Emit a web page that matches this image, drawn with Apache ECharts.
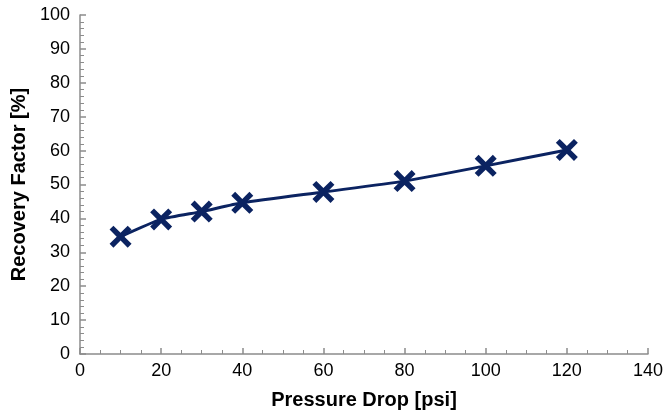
<!DOCTYPE html>
<html>
<head>
<meta charset="utf-8">
<script src="https://cdn.jsdelivr.net/npm/echarts@6/dist/echarts.min.js"></script>
<style>
  html, body { margin: 0; padding: 0; background: #fff; }
  #chart { width: 666px; height: 418px; }
</style>
</head>
<body>
<div id="chart"></div>
<script>
var pressureDrop = [10, 20, 30, 40, 60, 80, 100, 120];
var recovery = [34.6, 39.7, 42.0, 44.6, 47.8, 51.0, 55.5, 60.2];

var navy = '#0b2361';
var axisGray = '#8c8c8c';
// X shaped marker, thick arms
var crossPath = 'path://M3.5,0 L10,6.5 L16.5,0 L20,3.5 L13.5,10 L20,16.5 L16.5,20 L10,13.5 L3.5,20 L0,16.5 L6.5,10 L0,3.5 Z';

var points = pressureDrop.map(function (x, i) { return [x, recovery[i]]; });

var myChart = echarts.init(document.getElementById('chart'));
myChart.setOption({
    animation: false,
    grid: { left: 80, right: 18, top: 15, bottom: 64 },
    xAxis: {
        type: 'value',
        min: 0, max: 140, interval: 20,
        name: 'Pressure Drop [psi]',
        nameLocation: 'middle',
        nameGap: 36,
        nameTextStyle: { fontFamily: 'Liberation Sans', fontSize: 20, fontWeight: 'bold', color: '#000' },
        axisLine: { lineStyle: { color: axisGray, width: 1.5 } },
        axisTick: { inside: true, length: 6, lineStyle: { color: axisGray, width: 1.5 } },
        minorTick: { show: true, splitNumber: 4, length: 4, lineStyle: { color: axisGray, width: 1 } },
        axisLabel: { fontFamily: 'Liberation Sans', fontSize: 18, color: '#000', margin: 8 },
        splitLine: { show: false }
    },
    yAxis: {
        type: 'value',
        min: 0, max: 100, interval: 10,
        name: 'Recovery Factor [%]',
        nameLocation: 'middle',
        nameGap: 49,
        nameTextStyle: { fontFamily: 'Liberation Sans', fontSize: 20, fontWeight: 'bold', color: '#000' },
        axisLine: { show: true, lineStyle: { color: axisGray, width: 1.5 } },
        axisTick: { show: true, inside: true, length: 6, lineStyle: { color: axisGray, width: 1.5 } },
        minorTick: { show: true, splitNumber: 5, length: 4, lineStyle: { color: axisGray, width: 1 } },
        axisLabel: { fontFamily: 'Liberation Sans', fontSize: 18, color: '#000', margin: 10 },
        splitLine: { show: false }
    },
    series: [
        {
            type: 'line',
            data: points,
            smooth: 0.2,
            showSymbol: false,
            lineStyle: { color: navy, width: 3 }
        },
        {
            type: 'scatter',
            data: points,
            symbol: crossPath,
            symbolSize: 22,
            itemStyle: { color: navy, opacity: 1 },
            z: 3
        }
    ]
});
</script>
</body>
</html>
